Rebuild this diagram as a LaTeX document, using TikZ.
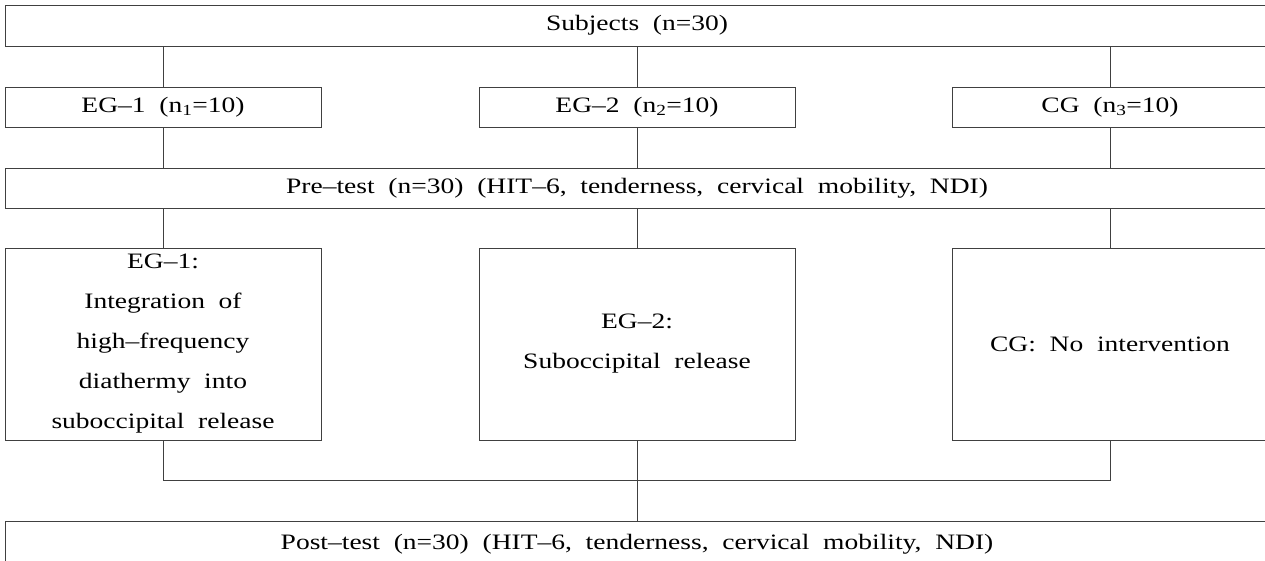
\documentclass[tikz,border=0pt]{standalone}
\usepackage{fontspec}
\setmainfont[FakeStretch=1.25]{Liberation Serif}
\tikzset{
  box/.style={draw=black!75, line width=0.9pt, inner sep=0pt, align=center,
    font=\fontsize{22}{40}\selectfont},
  conn/.style={draw=black!75, line width=0.8pt}
}
\begin{document}
\begin{tikzpicture}[x=1pt,y=-1pt]
\clip (0,0) rectangle (1265,561);
\node[box, minimum width=1264pt, minimum height=41pt] (top) at (637,25.5) {\raisebox{-2pt}{Subjects~~(n=30)}};
\node[box, minimum width=316pt, minimum height=40pt] (g1) at (163,107) {\raisebox{-2pt}{EG--1~~(n\textsubscript{1}=10)}};
\node[box, minimum width=316pt, minimum height=40pt] (g2) at (637,107) {\raisebox{-2pt}{EG--2~~(n\textsubscript{2}=10)}};
\node[box, minimum width=316pt, minimum height=40pt] (g3) at (1110,107) {\raisebox{-2pt}{CG~~(n\textsubscript{3}=10)}};
\node[box, minimum width=1264pt, minimum height=40pt] (pre) at (637,188) {\raisebox{-2pt}{Pre--test~~(n=30)~~(HIT--6,~~tenderness,~~cervical~~mobility,~~NDI)}};
\node[box, minimum width=316pt, minimum height=192pt] (i1) at (163,344) {EG--1:\\Integration~~of\\high--frequency\\diathermy~~into\\suboccipital~~release};
\node[box, minimum width=316pt, minimum height=192pt] (i2) at (637,344) {EG--2:\\Suboccipital~~release};
\node[box, minimum width=316pt, minimum height=192pt] (i3) at (1110,344) {CG:~~No~~intervention};
\node[box, minimum width=1264pt, minimum height=46pt] (post) at (637,544) {\raisebox{-2pt}{Post--test~~(n=30)~~(HIT--6,~~tenderness,~~cervical~~mobility,~~NDI)}};
\coordinate (m1) at (163,480);
\coordinate (m3) at (1110,480);
\coordinate (m2) at (637,480);
\foreach \g in {g1,g2,g3}{
  \draw[conn] (top.south -| \g) -- (\g.north);
  \draw[conn] (\g.south) -- (pre.north -| \g);
}
\foreach \i in {i1,i2,i3}{
  \draw[conn] (pre.south -| \i) -- (\i.north);
}
\draw[conn] (i1.south) -- (m1) -- (m3) -- (i3.south);
\draw[conn] (i2.south) -- (m2) -- (post.north -| m2);
\end{tikzpicture}
\end{document}
